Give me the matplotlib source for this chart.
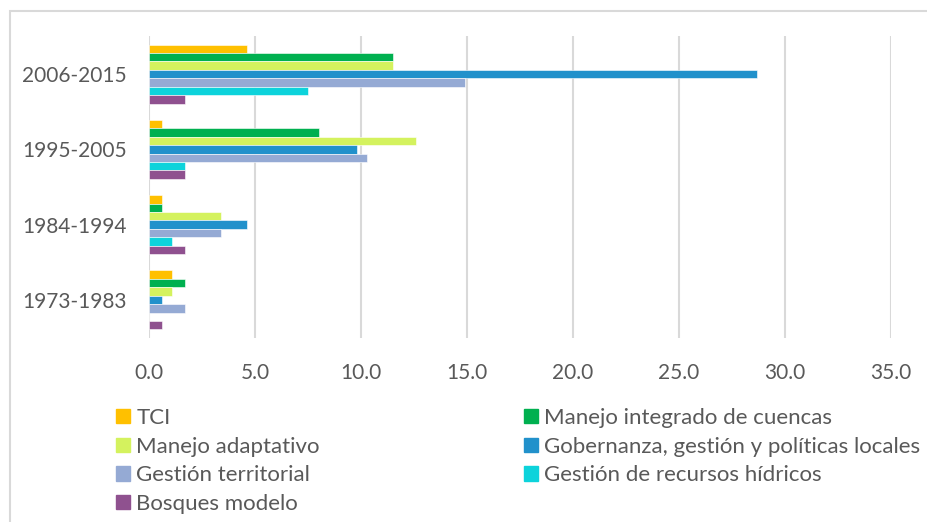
import numpy as np
import matplotlib
matplotlib.use('Agg')
import matplotlib.pyplot as plt
from matplotlib.patches import Rectangle, Patch

plt.rcParams['font.family'] = ['Lato', 'DejaVu Sans']

periods = ['1973-1983', '1984-1994', '1995-2005', '2006-2015']
series = ['TCI', 'Manejo integrado de cuencas', 'Manejo adaptativo',
          'Gobernanza, gestión y políticas locales', 'Gestión territorial',
          'Gestión de recursos hídricos', 'Bosques modelo']
# values per period (1973-1983 .. 2006-2015)
tci         = [1.1, 0.6, 0.6, 4.6]
integrado   = [1.7, 0.6, 8.0, 11.5]
adaptativo  = [1.1, 3.4, 12.6, 11.5]
gobernanza  = [0.6, 4.6, 9.8, 28.7]
territorial = [1.7, 3.4, 10.3, 14.9]
hidricos    = [0.0, 1.1, 1.7, 7.5]
bosques     = [0.6, 1.7, 1.7, 1.7]
xticks = [0, 5, 10, 15, 20, 25, 30, 35]

colors = ['#FFC000', '#00B050', '#D4F25E', '#2191CB', '#95AAD4', '#0DD3DB', '#8F518F']
values = [tci, integrado, adaptativo, gobernanza, territorial, hidricos, bosques]
text_color = '#595959'
grid_color = '#D9D9D9'

fig = plt.figure(figsize=(9.27, 5.22), dpi=100)
ax = fig.add_axes([149/927, 1-337.6/522, (891-149)/927, (337.6-36.4)/522])

y = np.arange(len(periods))
h = 0.112
handles = []
for i, (vals, c) in enumerate(zip(values, colors)):
    ax.barh(y + (3 - i)*h, vals, height=h, color=c, edgecolor='white', linewidth=0.4, zorder=3)
    handles.append(Patch(facecolor=c, edgecolor=c))

ax.set_xlim(0, 35)
ax.set_ylim(-0.5, 3.5)
ax.set_xticks(xticks)
ax.set_xticklabels(['%.1f' % t for t in xticks])
ax.set_yticks(y)
ax.set_yticklabels(periods)
ax.grid(axis='x', color=grid_color, linewidth=1.5, zorder=0)
for s in ax.spines.values():
    s.set_visible(False)
ax.tick_params(axis='both', length=0, labelsize=15, colors=text_color)
ax.tick_params(axis='x', pad=18)
ax.tick_params(axis='y', pad=16)

# outer chart border
fig.patches.append(Rectangle((10/927, -0.1), 1.2, 1-11/522+0.1, transform=fig.transFigure,
                             fill=False, edgecolor=grid_color, linewidth=1.5))

kw = dict(frameon=False, fontsize=16, labelcolor=text_color, handlelength=0.62,
          handleheight=0.62, handletextpad=0.3, labelspacing=0.39, borderaxespad=0,
          borderpad=0, loc='upper left')
left = [0, 2, 4, 6]
right = [1, 3, 5]
fig.legend([handles[i] for i in left], [series[i] for i in left],
           bbox_to_anchor=(116/927, 1-408/522), **kw)
fig.legend([handles[i] for i in right], [series[i] for i in right],
           bbox_to_anchor=(524/927, 1-408/522), **kw)

fig.savefig('out.png', dpi=100)
